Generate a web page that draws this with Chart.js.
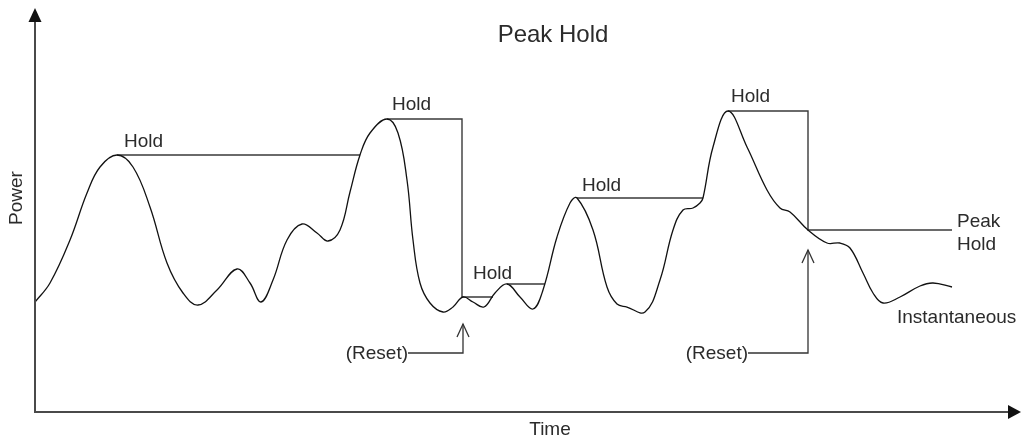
<!DOCTYPE html>
<html lang="en">

<head>
  <meta charset="UTF-8" />
  <title>Peak Hold</title>
  <style>
    body { margin: 0; background: #fff; }
  </style>
</head>

<body>
  <canvas id="chart" width="1025" height="440"></canvas>

  <script src="https://cdn.jsdelivr.net/npm/chart.js@4.4.0/dist/chart.umd.min.js"></script>
  <script>
    // time / power values (arbitrary units)
    var instTime = [0, 15, 35, 52, 65, 82, 98, 115, 132, 148, 163, 182, 202, 215, 226, 238, 252, 267, 282, 293,
      305, 315, 325, 335, 352, 363, 372, 378, 385, 395, 408, 418, 428, 438, 449, 460, 472, 485, 498, 508,
      522, 535, 542, 558, 572, 582, 592, 610, 625, 638, 648, 658, 665, 668, 678, 693, 712, 732, 745, 755,
      773, 792, 805, 815, 828, 838, 848, 865, 885, 898, 917];
    var instPower = [110, 129, 172, 219, 245, 257, 245, 205, 149, 119, 107, 122, 143, 129, 110, 132, 172, 188, 179, 171,
      182, 220, 257, 279, 293, 279, 232, 172, 129, 109, 100, 105, 115, 110, 105, 119, 128, 115, 103, 122,
      175, 209, 214, 182, 125, 108, 105, 100, 132, 182, 202, 204, 209, 214, 265, 301, 265, 222, 204, 200,
      182, 169, 169, 164, 139, 119, 109, 115, 126, 129, 125];

    // peak hold trace, null = where it follows the instantaneous curve
    var holdTime = [82, 325, 326, 352, 427, 427, 458, 459, 472, 510, 511, 542, 668, 669, 693, 773, 773, 917];
    var holdPower = [257, 257, null, 293, 293, 115, 115, null, 128, 128, null, 214, 214, null, 301, 301, 182, 182];

    var labelText = ["Hold", "Hold", "Hold", "Hold", "Hold", "Peak", "Hold", "Instantaneous"];
    var labelTime = [89, 357, 438, 547, 696, 922, 922, 862];
    var labelPower = [265, 302, 133, 221, 310, 185, 162, 89];

    // reset markers: where the arrow points, and the level of the leader line
    var resetTime = [428, 773];
    var resetTip = [88, 162];
    var resetLine = [59, 59];
    var resetStart = [373, 713];

    function toPoints(xs, ys) {
      var out = [];
      for (var i = 0; i < xs.length; i++) out.push({ x: xs[i], y: ys[i] });
      return out;
    }

    var FONT = '19px "Liberation Sans", Arial, sans-serif';
    var INK = '#2b2b2b';

    var decorations = {
      id: 'decorations',
      afterDatasetsDraw: function (chart) {
        var ctx = chart.ctx;
        var xs = chart.scales.x, ys = chart.scales.y;
        var a = chart.chartArea;
        ctx.save();

        // axes with arrow heads
        ctx.strokeStyle = '#4a4a4a';
        ctx.fillStyle = '#111';
        ctx.lineWidth = 2;
        ctx.beginPath();
        ctx.moveTo(a.left, a.top + 10);
        ctx.lineTo(a.left, a.bottom);
        ctx.lineTo(a.right - 10, a.bottom);
        ctx.stroke();
        ctx.beginPath();
        ctx.moveTo(a.left, a.top);
        ctx.lineTo(a.left - 6.5, a.top + 14);
        ctx.lineTo(a.left + 6.5, a.top + 14);
        ctx.closePath();
        ctx.fill();
        ctx.beginPath();
        ctx.moveTo(a.right, a.bottom);
        ctx.lineTo(a.right - 13, a.bottom - 7);
        ctx.lineTo(a.right - 13, a.bottom + 7);
        ctx.closePath();
        ctx.fill();

        // reset leaders
        ctx.strokeStyle = '#333';
        ctx.lineWidth = 1.3;
        ctx.font = FONT;
        ctx.fillStyle = INK;
        for (var i = 0; i < resetTime.length; i++) {
          var x = xs.getPixelForValue(resetTime[i]);
          var x0 = xs.getPixelForValue(resetStart[i]);
          var yl = ys.getPixelForValue(resetLine[i]);
          var yt = ys.getPixelForValue(resetTip[i]);
          ctx.beginPath();
          ctx.moveTo(x0, yl);
          ctx.lineTo(x, yl);
          ctx.lineTo(x, yt);
          ctx.stroke();
          ctx.beginPath();
          ctx.moveTo(x - 6, yt + 13);
          ctx.lineTo(x, yt);
          ctx.lineTo(x + 6, yt + 13);
          ctx.stroke();
          ctx.textAlign = 'right';
          ctx.textBaseline = 'middle';
          ctx.fillText('(Reset)', x0, yl + 1);
        }

        // labels
        ctx.textAlign = 'left';
        ctx.textBaseline = 'alphabetic';
        for (var j = 0; j < labelText.length; j++) {
          ctx.fillText(labelText[j], xs.getPixelForValue(labelTime[j]), ys.getPixelForValue(labelPower[j]));
        }

        // title and axis names
        ctx.textAlign = 'center';
        ctx.font = '24px "Liberation Sans", Arial, sans-serif';
        ctx.fillText('Peak Hold', 553, 42);
        ctx.font = FONT;
        ctx.textBaseline = 'middle';
        ctx.fillText('Time', 550, 430);
        ctx.translate(17, 198);
        ctx.rotate(-Math.PI / 2);
        ctx.fillText('Power', 0, 0);
        ctx.restore();
      }
    };

    var ctx = document.getElementById('chart').getContext('2d');
    var myChart = new Chart(ctx, {
      type: 'line',
      data: {
        datasets: [
          {
            label: 'Instantaneous',
            data: toPoints(instTime, instPower),
            borderColor: '#111',
            borderWidth: 1.3,
            pointRadius: 0,
            tension: 0.4,
            fill: false
          },
          {
            label: 'Peak Hold',
            data: toPoints(holdTime, holdPower),
            borderColor: '#3a3a3a',
            borderWidth: 1.4,
            pointRadius: 0,
            tension: 0,
            spanGaps: false,
            fill: false
          }
        ]
      },
      options: {
        responsive: false,
        animation: false,
        layout: { padding: { left: 35, top: 8, right: 4, bottom: 28 } },
        plugins: {
          legend: { display: false },
          tooltip: { enabled: false }
        },
        scales: {
          x: { type: 'linear', min: 0, max: 986, display: false },
          y: { type: 'linear', min: 0, max: 404, display: false }
        }
      },
      plugins: [decorations]
    });
  </script>
</body>

</html>
